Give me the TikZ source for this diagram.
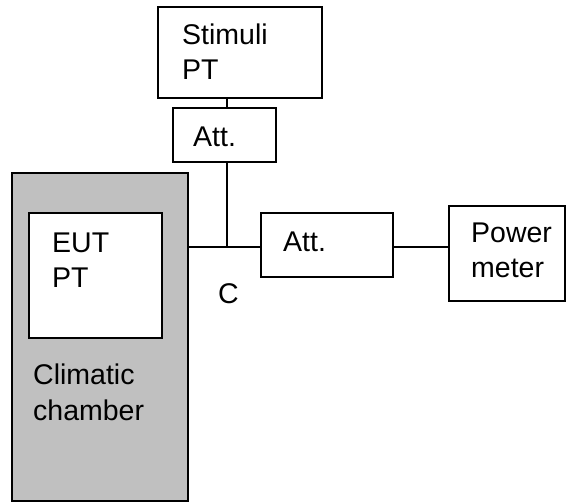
\documentclass[tikz,border=0pt]{standalone}
\usepackage{fontspec}
\setmainfont{Liberation Sans}
\begin{document}
\begin{tikzpicture}[x=1pt,y=-1pt,
  box/.style={draw=black,line width=2pt,fill=white,rectangle,inner sep=0pt},
  lbl/.style={anchor=base west,inner sep=0pt,font=\fontsize{28.5}{34}\selectfont,text=black},
  wire/.style={draw=black,line width=2pt}]
\useasboundingbox (0,0) rectangle (568,502);
\node[box,fill={rgb,255:red,192;green,192;blue,192},minimum width=176pt,minimum height=328pt] (chamber) at (100,337) {};
\node[box,minimum width=133pt,minimum height=125pt] (eut) at (95.5,275.5) {};
\node[box,minimum width=164pt,minimum height=91pt] (stim) at (240,52.5) {};
\node[box,minimum width=103pt,minimum height=54pt] (att1) at (224.5,135) {};
\node[box,minimum width=132pt,minimum height=64pt] (att2) at (327,245) {};
\node[box,minimum width=116pt,minimum height=95pt] (pm) at (507,253.5) {};
\coordinate (j) at (227,247);
\draw[wire] (stim.south -| j) -- (att1.north -| j);
\draw[wire] (att1.south -| j) -- (j);
\draw[wire] (chamber.east |- j) -- (att2.west |- j);
\draw[wire] (att2.east |- j) -- (pm.west |- j);
\node[lbl] (t1) at (182,45) {Stimuli};
\node[lbl] (t2) at (182,80) {PT};
\node[lbl] (t3) at (193,147) {Att.};
\node[lbl] (t4) at (52,253) {EUT};
\node[lbl] (t5) at (52,288) {PT};
\node[lbl] (t6) at (218,304) {C};
\node[lbl] (t7) at (283,252) {Att.};
\node[lbl] (t8) at (471,243) {Power};
\node[lbl] (t9) at (471,278) {meter};
\node[lbl] (t10) at (33,385) {Climatic};
\node[lbl] (t11) at (33,421) {chamber};
\end{tikzpicture}
\end{document}
